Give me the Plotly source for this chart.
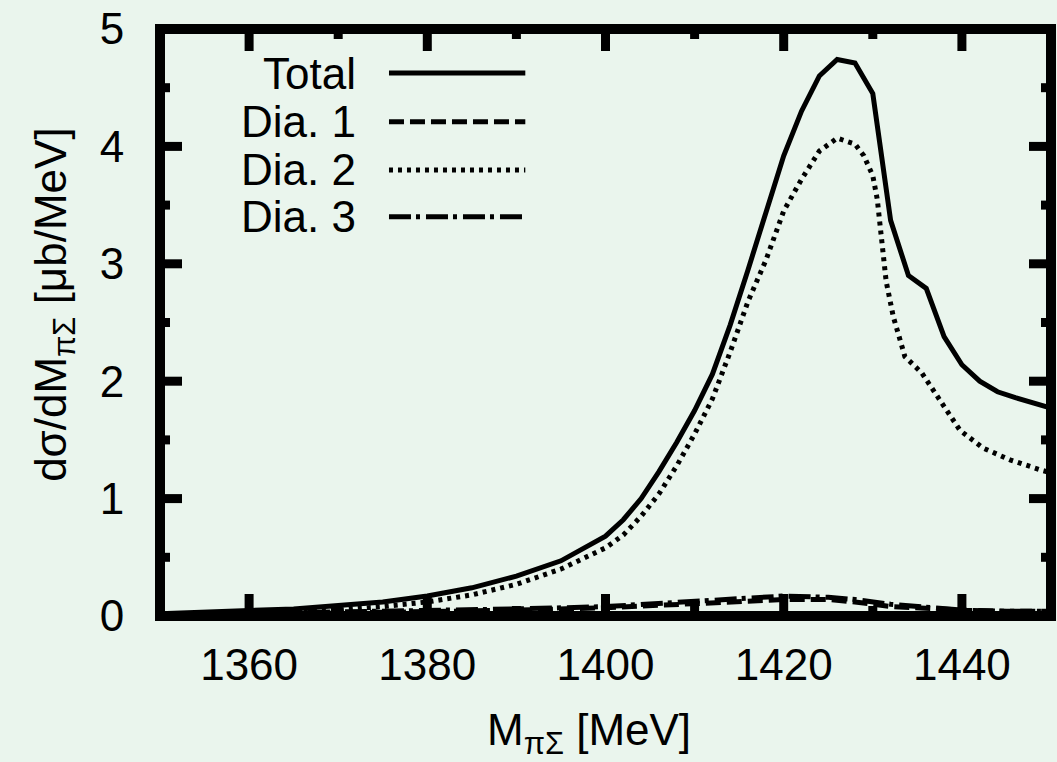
import plotly.graph_objects as go

# invariant mass grid (MeV) and cross sections (ub/MeV)
m_total = [1350, 1355, 1360, 1365, 1370, 1375, 1380, 1385, 1390, 1395, 1400,
           1402, 1404, 1406, 1408, 1410, 1412, 1414, 1416, 1418, 1420, 1422,
           1424, 1426, 1428, 1430, 1431, 1432, 1434, 1436, 1438, 1440, 1442,
           1444, 1446, 1448, 1450]
total = [0.02, 0.03, 0.04, 0.06, 0.09, 0.12, 0.17, 0.24, 0.34, 0.47, 0.68,
         0.82, 1.00, 1.23, 1.48, 1.75, 2.06, 2.48, 2.95, 3.45, 3.92, 4.30,
         4.60, 4.74, 4.71, 4.45, 3.90, 3.37, 2.90, 2.79, 2.38, 2.14, 2.00,
         1.91, 1.86, 1.82, 1.77]

m_dia2 = [1350, 1360, 1370, 1375, 1380, 1385, 1390, 1395, 1400, 1402, 1404,
          1406, 1408, 1410, 1412, 1414, 1416, 1418, 1420, 1422, 1424, 1426,
          1428, 1429, 1430, 1430.5, 1431, 1431.5, 1432.3, 1433.6, 1435.5,
          1437.5, 1439.8, 1442.4, 1445.4, 1449, 1450]
dia2 = [0.00, 0.02, 0.05, 0.08, 0.12, 0.18, 0.27, 0.40, 0.58, 0.69, 0.85,
        1.04, 1.28, 1.55, 1.85, 2.25, 2.68, 3.03, 3.45, 3.72, 3.96, 4.07,
        4.02, 3.92, 3.75, 3.55, 3.20, 2.85, 2.55, 2.21, 2.07,
        1.84, 1.58, 1.43, 1.33, 1.24, 1.22]

m_small = [1350, 1360, 1370, 1380, 1390, 1400, 1410, 1415, 1420, 1425, 1428,
           1432, 1436, 1440, 1445, 1450]
dia1 = [0.00, 0.01, 0.02, 0.03, 0.05, 0.07, 0.10, 0.12, 0.14, 0.14, 0.12,
        0.08, 0.06, 0.05, 0.04, 0.04]
dia3 = [0.01, 0.02, 0.03, 0.04, 0.06, 0.08, 0.12, 0.15, 0.17, 0.16, 0.14,
        0.10, 0.07, 0.05, 0.04, 0.04]

series_names = ["Total", "Dia. 1", "Dia. 2", "Dia. 3"]
x_ticks = [1360, 1380, 1400, 1420, 1440]
x_minor = [1370, 1390, 1410, 1430]
y_ticks = [0, 1, 2, 3, 4, 5]
y_minor = [0.5, 1.5, 2.5, 3.5, 4.5]

FONT = "Liberation Sans, Arial, sans-serif"
BG = "#eaf5ed"
LW = 5
FRAME = 10
DASHES = ["solid", "15px,6px", "4px,5px", "22px,5px,4px,6px"]

ML, MR, MT, MB = 160, 6, 29, 146
PW, PH = 1057 - ML - MR, 762 - MT - MB
MAJOR, MINOR, TICK_W = 22, 10, 9   # tick lengths from the frame centre, px

fig = go.Figure()
for name, xs, ys, dash in [
    (series_names[0], m_total, total, DASHES[0]),
    (series_names[1], m_small, dia1, DASHES[1]),
    (series_names[2], m_dia2, dia2, DASHES[2]),
    (series_names[3], m_small, dia3, DASHES[3]),
]:
    fig.add_trace(go.Scatter(x=xs, y=ys, mode="lines", name=name,
                             line=dict(color="black", width=LW, dash=dash),
                             showlegend=False))

# key: right-aligned labels followed by line samples
row_y = [0.925, 0.842, 0.760, 0.680]
for name, dash, yy in zip(series_names, DASHES, row_y):
    fig.add_annotation(text=name, xref="paper", yref="paper", x=0.222, y=yy,
                       xanchor="right", yanchor="middle", showarrow=False,
                       font=dict(family=FONT, size=44, color="black"))
    fig.add_shape(type="line", xref="paper", yref="paper",
                  x0=0.257, x1=0.410, y0=yy, y1=yy,
                  line=dict(color="black", width=LW, dash=dash))

# inward ticks on all four sides
tick_line = dict(color="black", width=TICK_W)
for vals, length in ((x_ticks, MAJOR), (x_minor, MINOR)):
    h = length / PH
    for v in vals:
        fig.add_shape(type="line", xref="x", yref="paper", x0=v, x1=v,
                      y0=0, y1=h, line=tick_line, layer="above")
        fig.add_shape(type="line", xref="x", yref="paper", x0=v, x1=v,
                      y0=1, y1=1 - h, line=tick_line, layer="above")
for vals, length in ((y_ticks, MAJOR), (y_minor, MINOR)):
    w = length / PW
    for v in vals:
        fig.add_shape(type="line", xref="paper", yref="y", x0=0, x1=w,
                      y0=v, y1=v, line=tick_line, layer="above")
        fig.add_shape(type="line", xref="paper", yref="y", x0=1, x1=1 - w,
                      y0=v, y1=v, line=tick_line, layer="above")

# heavy frame centred on the edges of the plotting area
fig.add_shape(type="rect", xref="paper", yref="paper", x0=0, x1=1, y0=0, y1=1,
              line=dict(color="black", width=FRAME), layer="above")

SUB = "<sub>πΣ</sub>"
fig.add_annotation(text="dσ/dM" + SUB + " [μb/MeV]", xref="paper", yref="paper",
                   x=-0.119, y=0.530, textangle=-90, showarrow=False,
                   xanchor="center", yanchor="middle",
                   font=dict(family=FONT, size=44, color="black"))
fig.add_annotation(text="M" + SUB + " [MeV]", xref="paper", yref="paper",
                   x=0.482, y=-0.148, showarrow=False,
                   xanchor="center", yanchor="top",
                   font=dict(family=FONT, size=44, color="black"))

# the axis lines only set the gap to the tick labels, so they take the
# background colour
axis_common = dict(showgrid=False, zeroline=False, automargin=False,
                   showline=True, linecolor=BG, ticks="",
                   layer="below traces",
                   tickfont=dict(family=FONT, size=44, color="black"))

fig.update_xaxes(range=[1350, 1450], tickmode="array",
                 tickvals=x_ticks, ticktext=[str(v) for v in x_ticks],
                 linewidth=11, **axis_common)
fig.update_yaxes(range=[0, 5], tickmode="array",
                 tickvals=y_ticks, ticktext=[str(v) for v in y_ticks],
                 linewidth=27, **axis_common)

fig.update_layout(width=1057, height=762,
                  margin=dict(l=ML, r=MR, t=MT, b=MB, autoexpand=False),
                  paper_bgcolor=BG, plot_bgcolor=BG,
                  font=dict(family=FONT, color="black"))

fig.write_html("out.html")
